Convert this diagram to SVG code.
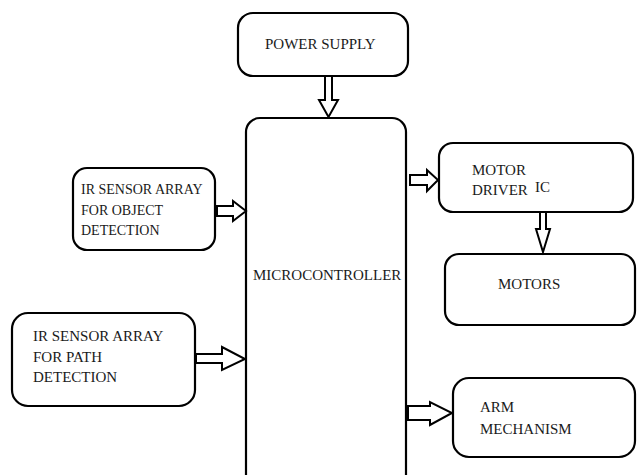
<svg xmlns="http://www.w3.org/2000/svg" width="637" height="475" viewBox="0 0 637 475">
<style>
.box{fill:#fff;stroke:#000;stroke-width:2.2}
.arr{fill:#fff;stroke:#000;stroke-width:2;stroke-linejoin:miter}
text{font-family:"Liberation Serif","Times New Roman","DejaVu Serif",serif;font-size:15px;fill:#1a1a1a}
.s14{font-size:14px}
</style>
<rect width="637" height="475" fill="#fff"/>
<g id="power"><rect class="box" x="238" y="13" width="170" height="63" rx="15"/><text x="265" y="49">POWER SUPPLY</text></g>
<g id="mcu"><rect class="box" x="246" y="118" width="160" height="372" rx="14"/><text x="253" y="280">MICROCONTROLLER</text></g>
<g id="irobj"><rect class="box" x="73" y="168" width="142" height="82" rx="14"/><text class="s14" x="81" y="194">IR SENSOR ARRAY</text><text class="s14" x="81" y="215">FOR OBJECT</text><text class="s14" x="81" y="235">DETECTION</text></g>
<g id="irpath"><rect class="box" x="12" y="313" width="183" height="93" rx="16"/><text x="33" y="341">IR SENSOR ARRAY</text><text x="33" y="362">FOR PATH</text><text x="33" y="382">DETECTION</text></g>
<g id="driver"><rect class="box" x="439" y="143" width="194" height="69" rx="14"/><text x="472" y="175">MOTOR</text><text x="472" y="195">DRIVER</text><text x="535" y="192">IC</text></g>
<g id="motors"><rect class="box" x="445" y="254" width="190" height="71" rx="14"/><text x="498" y="289">MOTORS</text></g>
<g id="arm"><rect class="box" x="453" y="378" width="182" height="79" rx="16"/><text x="480" y="412">ARM</text><text x="480" y="434">MECHANISM</text></g>
<g id="connectors">
<polygon class="arr" points="325,76 332,76 332,100 338,100 328.5,117 319,100 325,100"/>
<polygon class="arr" points="217,206 233,206 233,201 246,211 233,221 233,216 217,216"/>
<polygon class="arr" points="196,354 222,354 222,347 245,359 222,370 222,363 196,363"/>
<polygon class="arr" points="410,175 427,175 427,170 438,180 427,191 427,185 410,185"/>
<polygon class="arr" points="540,212 546,212 546,229 550,229 543,252 536,229 540,229"/>
<polygon class="arr" points="408,406 430,406 430,402 452,413 430,425 430,420 408,420"/>
</g>
</svg>
